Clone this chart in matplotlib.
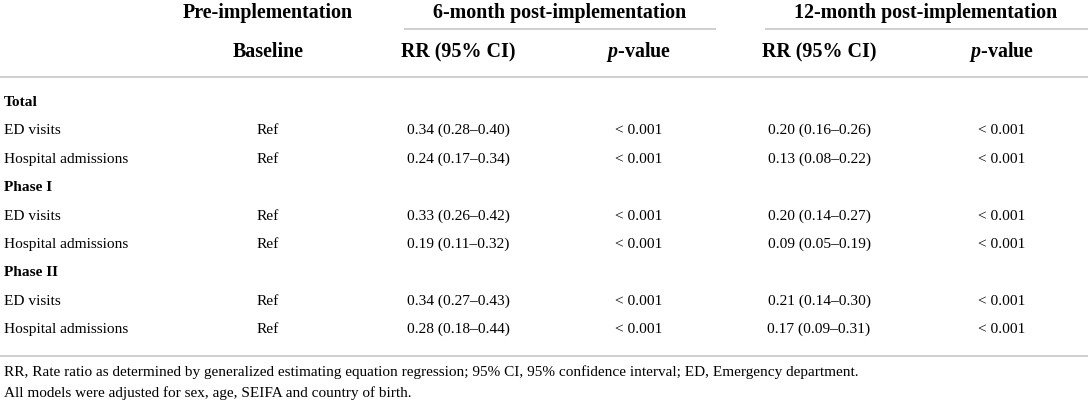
import matplotlib
matplotlib.use("Agg")
import matplotlib.pyplot as plt

# ---- table contents ----
groups = ["Total", "Phase I", "Phase II"]
outcomes = ["ED visits", "Hospital admissions"]
baseline = "Ref"
rr_6m = [["0.34 (0.28\u20130.40)", "0.24 (0.17\u20130.34)"],
         ["0.33 (0.26\u20130.42)", "0.19 (0.11\u20130.32)"],
         ["0.34 (0.27\u20130.43)", "0.28 (0.18\u20130.44)"]]
p_6m = [["< 0.001", "< 0.001"]] * 3
rr_12m = [["0.20 (0.16\u20130.26)", "0.13 (0.08\u20130.22)"],
          ["0.20 (0.14\u20130.27)", "0.09 (0.05\u20130.19)"],
          ["0.21 (0.14\u20130.30)", "0.17 (0.09\u20130.31)"]]
p_12m = [["< 0.001", "< 0.001"]] * 3
top_headers = ["Pre-implementation", "6-month post-implementation", "12-month post-implementation"]
sub_headers = ["Baseline", "RR (95% CI)", "$\\mathbfit{p}$-value", "RR (95% CI)", "$\\mathbfit{p}$-value"]
footnotes = ["RR, Rate ratio as determined by generalized estimating equation regression; "
             "95% CI, 95% confidence interval; ED, Emergency department.",
             "All models were adjusted for sex, age, SEIFA and country of birth."]

plt.rcParams["font.family"] = ["Liberation Serif", "DejaVu Serif"]
plt.rcParams["mathtext.fontset"] = "custom"
plt.rcParams["mathtext.bfit"] = "Liberation Serif:italic:bold"

W, H = 1088, 404
fig = plt.figure(figsize=(W / 100, H / 100), dpi=100)
ax = fig.add_axes([0, 0, 1, 1])
ax.set_xlim(0, W); ax.set_ylim(H, 0); ax.axis("off")

LINE = "#cfcfcf"
LW = 1.4
HS, BS, FS = 14.4, 11.1, 11.0
col_x = [268, 458, 639, 819, 1002]
top_x = [268, 560, 926]

# header rows (baseline-aligned, pixel coords)
for x, t in zip(top_x, top_headers):
    ax.text(x, 18, t, ha="center", va="baseline", fontsize=HS, fontweight="bold")
ax.plot([405, 715], [29, 29], color=LINE, lw=LW)
ax.plot([766, W], [29, 29], color=LINE, lw=LW)
for x, t in zip(col_x, sub_headers):
    ax.text(x, 57, t, ha="center", va="baseline", fontsize=HS, fontweight="bold")
ax.plot([0, W], [77, 77], color=LINE, lw=LW)

# body
y0, step = 106, 28.4
r = 0
for g, grp in enumerate(groups):
    ax.text(4, round(y0 + r * step), grp, ha="left", va="baseline",
            fontsize=BS, fontweight="bold")
    r += 1
    for o, name in enumerate(outcomes):
        y = round(y0 + r * step)
        vals = [baseline, rr_6m[g][o], p_6m[g][o], rr_12m[g][o], p_12m[g][o]]
        ax.text(4, y, name, ha="left", va="baseline", fontsize=BS)
        for x, v in zip(col_x, vals):
            ax.text(x, y, v, ha="center", va="baseline", fontsize=BS)
        r += 1
ax.plot([0, W], [356, 356], color=LINE, lw=LW)

for i, f in enumerate(footnotes):
    ax.text(4, 376 + i * 21, f, ha="left", va="baseline", fontsize=FS)

fig.savefig("out.png", dpi=100)
